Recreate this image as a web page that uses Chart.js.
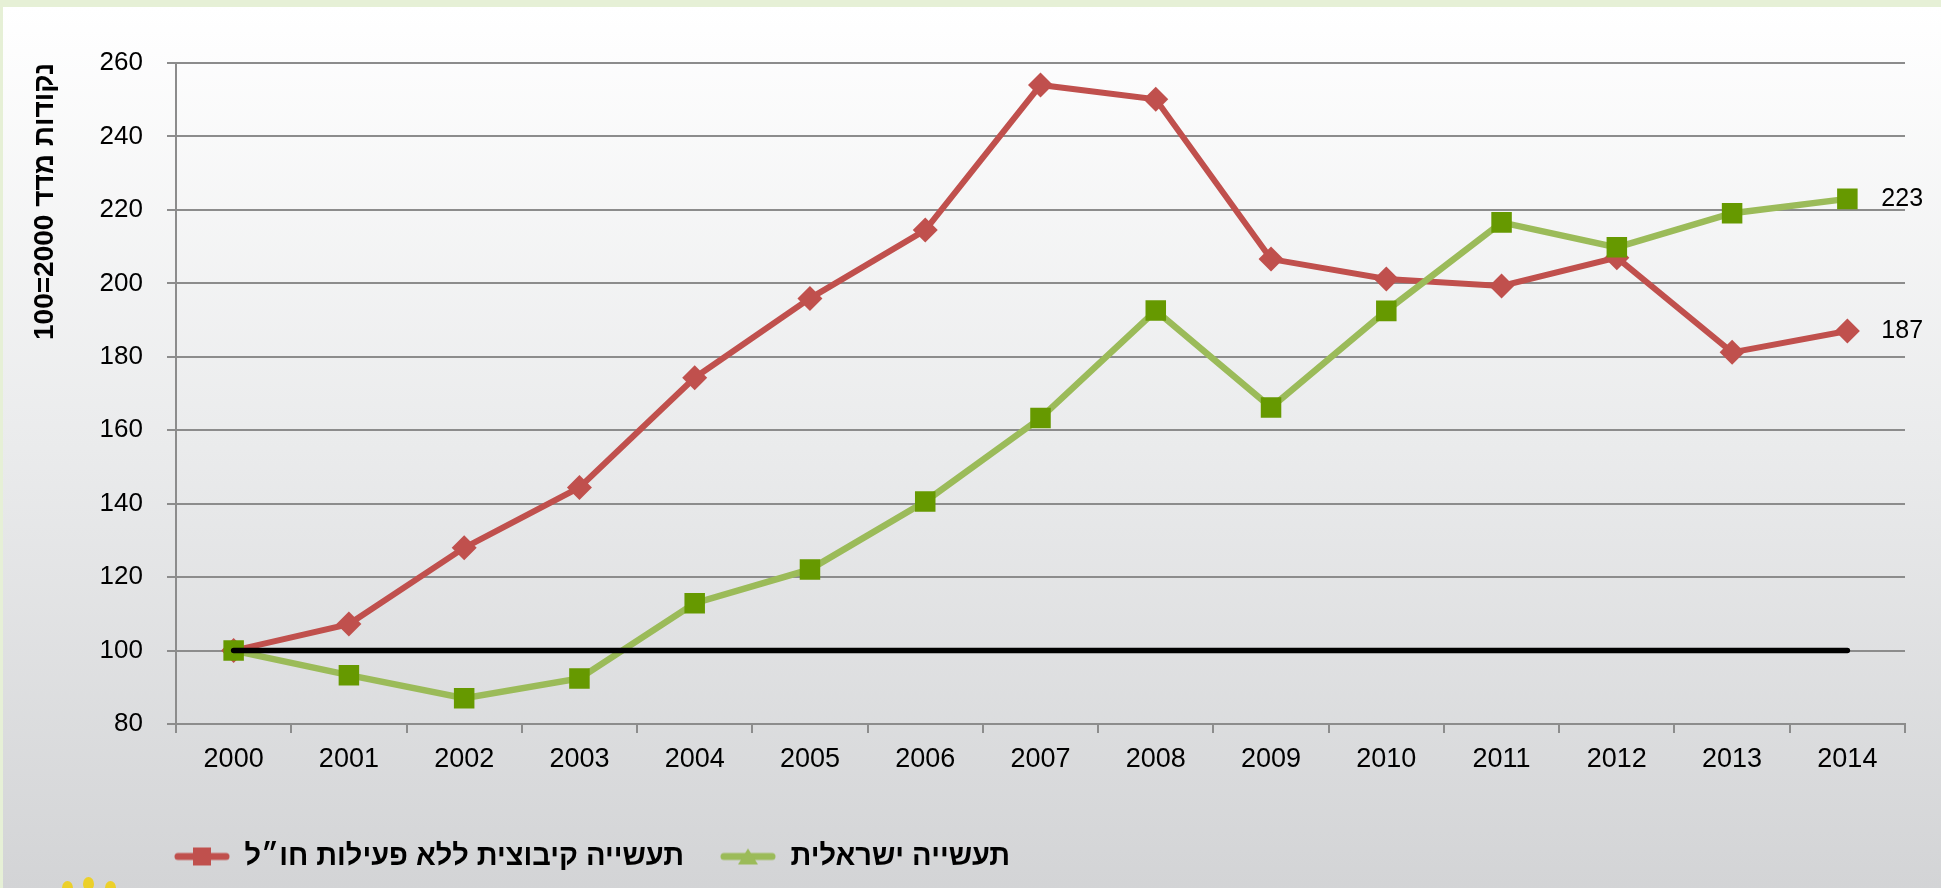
<!DOCTYPE html>
<html>
<head>
<meta charset="utf-8">
<script src="https://cdn.jsdelivr.net/npm/chart.js@4.4.1/dist/chart.umd.min.js"></script>
<style>
  html, body { margin: 0; padding: 0; }
  body { width: 1941px; height: 888px; background: #e6f0d6; position: relative; overflow: hidden; }
  #panel { position: absolute; left: 3px; top: 7px; right: 0; bottom: 0;
           background: linear-gradient(to bottom, #ffffff 0%, #eaebec 50%, #d3d4d6 100%); }
  #chart { position: absolute; left: 0; top: 0; }
  .blob { position: absolute; width: 11px; height: 14px; border-radius: 50%; background: #ecd02a; top: 878px; }
</style>
</head>
<body>
<div id="panel"></div>
<div class="blob" style="left:62px; top:881px"></div>
<div class="blob" style="left:83px; top:877px"></div>
<div class="blob" style="left:105px; top:881px"></div>
<canvas id="chart" width="1941" height="888"></canvas>
<script>
var years = ['2000','2001','2002','2003','2004','2005','2006','2007','2008','2009','2010','2011','2012','2013','2014'];
var kibbutz = [100, 107.2, 128, 144.4, 174.3, 195.9, 214.5, 254, 250.1, 206.6, 201.2, 199.3, 207, 181.2, 187];
var israel = [100, 93.3, 87, 92.4, 112.9, 122.1, 140.6, 163.3, 192.6, 166.2, 192.5, 216.6, 209.8, 219.1, 223];
var baseline = [100,100,100,100,100,100,100,100,100,100,100,100,100,100,100];

var kibbutzLabel = 'תעשייה קיבוצית ללא פעילות חו״ל';
var israelLabel = 'תעשייה ישראלית';
var yTitle = 'נקודות מדד 2000=100';
var endLabels = ['187', '223'];

var RED = '#c0504d';
var GREEN_LINE = '#9bbb59';
var GREEN_MARK = '#669900';

// legend icons: line with marker, like the office legend
function legendIcon(color, shape) {
    var c = document.createElement('canvas');
    c.width = 56; c.height = 24;
    var g = c.getContext('2d');
    g.strokeStyle = color;
    g.fillStyle = color;
    g.lineWidth = 7;
    g.lineCap = 'round';
    g.beginPath();
    g.moveTo(4, 12);
    g.lineTo(52, 12);
    g.stroke();
    if (shape == 'square') {
        g.fillRect(19, 3, 18, 18);
    } else {
        g.beginPath();
        g.moveTo(28, 4);
        g.lineTo(38, 20);
        g.lineTo(18, 20);
        g.closePath();
        g.fill();
    }
    return c;
}
var icons = [null, legendIcon(RED, 'square'), legendIcon(GREEN_LINE, 'triangle')];

var endValues = {
    id: 'endValues',
    afterDatasetsDraw(chart) {
        var ctx = chart.ctx;
        ctx.save();
        ctx.font = '25px "Liberation Sans", Arial, sans-serif';
        ctx.fillStyle = '#000';
        ctx.textAlign = 'left';
        ctx.textBaseline = 'middle';
        [1, 2].forEach(function (di, k) {
            var meta = chart.getDatasetMeta(di);
            var pt = meta.data[meta.data.length - 1];
            ctx.fillText(endLabels[k], pt.x + 34, pt.y);
        });
        ctx.restore();
    }
};

var shiftLegend = {
    id: 'shiftLegend',
    afterLayout(chart) {
        chart.legend.left -= 38;
        chart.legend.right -= 38;
    }
};

var chart = new Chart('chart', {
    type: 'line',
    data: {
        labels: years,
        datasets: [{
            label: 'base',
            data: baseline,
            borderColor: '#000',
            borderWidth: 5.5,
            borderCapStyle: 'round',
            pointRadius: 0,
            order: 0
        }, {
            label: kibbutzLabel,
            data: kibbutz,
            borderColor: RED,
            backgroundColor: RED,
            borderWidth: 6,
            pointStyle: 'rectRot',
            pointRadius: 12.5,
            pointBorderWidth: 0,
            order: 2
        }, {
            label: israelLabel,
            data: israel,
            borderColor: GREEN_LINE,
            backgroundColor: GREEN_MARK,
            borderWidth: 6.5,
            pointStyle: 'rect',
            pointRadius: 14.5,
            pointBorderWidth: 0,
            order: 1
        }]
    },
    options: {
        responsive: false,
        animation: false,
        layout: { padding: { top: 63, right: 36, bottom: 7, left: 0 } },
        plugins: {
            tooltip: { enabled: false },
            legend: {
                position: 'bottom',
                align: 'start',
                fullSize: false,
                labels: {
                    usePointStyle: true,
                    pointStyleWidth: 56,
                    padding: 36,
                    color: '#000',
                    font: { family: '"Liberation Sans", Arial, sans-serif', size: 29, weight: 'bold' },
                    sort: (a, b) => a.datasetIndex - b.datasetIndex,
                    filter: item => item.datasetIndex > 0,
                    generateLabels(chart) {
                        var items = Chart.defaults.plugins.legend.labels.generateLabels(chart);
                        items.forEach(function (it) {
                            if (icons[it.datasetIndex]) it.pointStyle = icons[it.datasetIndex];
                        });
                        return items;
                    }
                }
            }
        },
        scales: {
            x: {
                offset: true,
                afterFit(scale) { scale.height = 82; },
                grid: { offset: true, drawOnChartArea: false, color: '#8c8c8c', lineWidth: 2, tickLength: 9 },
                border: { color: '#8c8c8c', width: 2 },
                ticks: {
                    color: '#000',
                    padding: 10,
                    maxRotation: 0,
                    font: { family: '"Liberation Sans", Arial, sans-serif', size: 27 }
                }
            },
            y: {
                min: 80,
                max: 260,
                afterFit(scale) { scale.width = 176; },
                grid: { color: '#8c8c8c', lineWidth: 2, tickLength: 9 },
                border: { color: '#8c8c8c', width: 2 },
                ticks: {
                    stepSize: 20,
                    color: '#000',
                    padding: 24,
                    font: { family: '"Liberation Sans", Arial, sans-serif', size: 26 }
                },
                title: {
                    display: true,
                    text: yTitle,
                    align: 'end',
                    color: '#000',
                    padding: { top: 28, bottom: 0 },
                    font: { family: '"Liberation Sans", Arial, sans-serif', size: 28, weight: 'bold' }
                }
            }
        }
    },
    plugins: [endValues, shiftLegend]
});
</script>
</body>
</html>
